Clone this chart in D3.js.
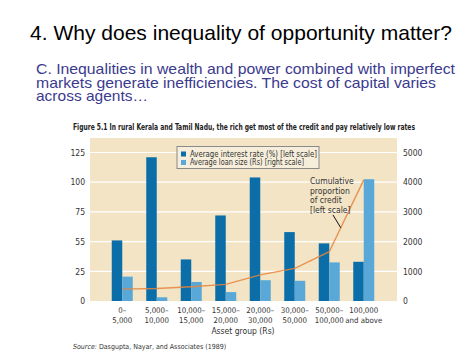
<!DOCTYPE html>
<html>
<head>
<meta charset="utf-8">
<script src="https://cdn.jsdelivr.net/npm/d3@7"></script>
<style>
  html, body { margin: 0; padding: 0; background: #fff; }
  svg { display: block; }
  .narrow { font-family: "Liberation Sans Narrow", "DejaVu Sans Condensed", "Liberation Sans", sans-serif; }
</style>
</head>
<body>
<div id="chart"></div>
<script>
// Asset groups (two label lines each)
const groups = ['g1', 'g2', 'g3', 'g4', 'g5', 'g6', 'g7', 'g8'];
const groupLabels = [
  ['0–', '5,000'], ['5,000–', '10,000'], ['10,000–', '15,000'], ['15,000–', '20,000'],
  ['20,000–', '30,000'], ['30,000–', '50,000'], ['50,000–', '100,000'], ['100,000', 'and above']
];
// Average interest rate (%), left scale
const interestRate = [51, 121, 35, 72, 104, 58, 48.5, 33];
// Average loan size (Rs), right scale
const loanSize = [820, 125, 640, 300, 700, 680, 1300, 4100];
// Cumulative proportion of credit, left scale
const cumulative = [10, 10.5, 12, 14, 22, 27.5, 41.5, 102];

const leftTicks = [0, 25, 50, 75, 100, 125];
const leftTickLabels = ['0', '25', '55', '75', '100', '125'];
const rightTicks = [0, 1000, 2000, 3000, 4000, 5000];

const W = 474, H = 355;
const COLORS = { dark: '#0b6ea8', light: '#5aa8d8', bg: '#f2e4c5', line: '#e8843c' };

const svg = d3.select('#chart').append('svg').attr('width', W).attr('height', H);

// Slide heading
svg.append('text')
  .attr('x', 30).attr('y', 40)
  .attr('font-family', 'Liberation Sans, Arial, sans-serif')
  .attr('font-size', 21).attr('fill', '#000')
  .attr('textLength', 422).attr('lengthAdjust', 'spacingAndGlyphs')
  .text('4. Why does inequality of opportunity matter?');

const sub = [
  'C. Inequalities in wealth and power combined with imperfect',
  'markets generate inefficiencies. The cost of capital varies',
  'across agents…'
];
const subLen = [419, 400, 112];
svg.append('g').selectAll('text').data(sub).join('text')
  .attr('x', 36).attr('y', (d, i) => 74 + i * 13.5)
  .attr('font-family', 'Liberation Sans, Arial, sans-serif')
  .attr('font-size', 15).attr('fill', '#3b3a8e')
  .attr('textLength', (d, i) => subLen[i]).attr('lengthAdjust', 'spacingAndGlyphs')
  .text(d => d);

// Figure title
svg.append('text').attr('class', 'narrow')
  .attr('x', 73).attr('y', 130)
  .attr('font-size', 9).attr('font-weight', 'bold').attr('fill', '#222')
  .attr('textLength', 342).attr('lengthAdjust', 'spacingAndGlyphs')
  .text('Figure 5.1 In rural Kerala and Tamil Nadu, the rich get most of the credit and pay relatively low rates');

// Plot area
const plot = { left: 90, right: 397, top: 138, bottom: 301 };

const x = d3.scaleBand().domain(groups).range([105, 381]).paddingInner(0).paddingOuter(0);
const yL = d3.scaleLinear().domain([0, 125]).range([plot.bottom, 152.5]);
const yR = d3.scaleLinear().domain([0, 5000]).range([plot.bottom, 152.5]);
const barW = 10.5;

svg.append('rect')
  .attr('x', plot.left).attr('y', plot.top)
  .attr('width', plot.right - plot.left).attr('height', plot.bottom - plot.top)
  .attr('fill', COLORS.bg);

// Gridlines
svg.append('g').selectAll('line').data(leftTicks.slice(1)).join('line')
  .attr('x1', plot.left).attr('x2', plot.right)
  .attr('y1', d => yL(d)).attr('y2', d => yL(d))
  .attr('stroke', '#fff').attr('stroke-width', 1.2);

// Left axis labels
const leftAxis = d3.axisLeft(yL).tickValues(leftTicks)
  .tickFormat((d, i) => leftTickLabels[i]).tickSize(0).tickPadding(0);
svg.append('g').attr('class', 'narrow')
  .attr('transform', 'translate(85,0)')
  .call(leftAxis)
  .call(g => g.select('.domain').remove())
  .call(g => g.selectAll('text').attr('font-size', 8.5).attr('fill', '#333').attr('font-family', null));

// Right axis labels
const rightAxis = d3.axisRight(yR).tickValues(rightTicks)
  .tickFormat(d3.format('d')).tickSize(0).tickPadding(0);
svg.append('g').attr('class', 'narrow')
  .attr('transform', 'translate(403,0)')
  .call(rightAxis)
  .call(g => g.select('.domain').remove())
  .call(g => g.selectAll('text').attr('font-size', 8.5).attr('fill', '#333').attr('font-family', null));

const center = d => x(d) + x.bandwidth() / 2;

// Bars
svg.append('g').selectAll('rect').data(groups).join('rect')
  .attr('x', d => center(d) - barW)
  .attr('y', (d, i) => yL(interestRate[i]))
  .attr('width', barW)
  .attr('height', (d, i) => yL(0) - yL(interestRate[i]))
  .attr('fill', COLORS.dark);

svg.append('g').selectAll('rect').data(groups).join('rect')
  .attr('x', d => center(d))
  .attr('y', (d, i) => yR(loanSize[i]))
  .attr('width', barW)
  .attr('height', (d, i) => yR(0) - yR(loanSize[i]))
  .attr('fill', COLORS.light);

// Cumulative line
const line = d3.line().x((d, i) => center(groups[i])).y(d => yL(d));
svg.append('path').datum(cumulative)
  .attr('d', line)
  .attr('fill', 'none').attr('stroke', COLORS.line)
  .attr('stroke-width', 1.4).attr('stroke-opacity', 0.85);

// Annotation
const ann = ['Cumulative', 'proportion', 'of credit', '[left scale]'];
svg.append('g').attr('class', 'narrow').selectAll('text').data(ann).join('text')
  .attr('x', 310).attr('y', (d, i) => 184 + i * 9.7)
  .attr('font-size', 8.5).attr('fill', '#333')
  .text(d => d);
const annX = center(groups[6]) + 11.5;
const annY = yL(cumulative[6]) + (yL(cumulative[7]) - yL(cumulative[6])) * (11.5 / x.step());
svg.append('line')
  .attr('x1', 333).attr('y1', 215).attr('x2', annX).attr('y2', annY)
  .attr('stroke', '#111').attr('stroke-width', 1);

// Legend
const legend = svg.append('g').attr('class', 'narrow');
legend.append('rect')
  .attr('x', 177).attr('y', 146.5).attr('width', 142).attr('height', 22)
  .attr('fill', '#f6eedb').attr('stroke', '#8a8a8a').attr('stroke-width', 1);
const legendData = [
  { label: 'Average interest rate (%) [left scale]', color: COLORS.dark, len: 127 },
  { label: 'Average loan size (Rs) [right scale]', color: COLORS.light, len: 114 }
];
const li = legend.selectAll('.li').data(legendData).join('g')
  .attr('transform', (d, i) => 'translate(181,' + (151.5 + i * 8.5) + ')');
li.append('rect').attr('width', 5).attr('height', 5).attr('fill', d => d.color);
li.append('text').attr('x', 9).attr('y', 5.2)
  .attr('font-size', 8.5).attr('fill', '#333')
  .attr('textLength', d => d.len).attr('lengthAdjust', 'spacingAndGlyphs')
  .text(d => d.label);

// X labels
const xl = svg.append('g').attr('class', 'narrow');
groups.forEach((g, i) => {
  groupLabels[i].forEach((t, j) => {
    xl.append('text')
      .attr('x', center(g)).attr('y', 313 + j * 10)
      .attr('text-anchor', 'middle').attr('font-size', 7.8).attr('fill', '#333')
      .text(t);
  });
});
xl.append('text')
  .attr('x', 243).attr('y', 334).attr('text-anchor', 'middle')
  .attr('font-size', 8.5).attr('fill', '#333').text('Asset group (Rs)');

// Source
const src = svg.append('text').attr('class', 'narrow')
  .attr('x', 73).attr('y', 349).attr('font-size', 7).attr('fill', '#333');
src.append('tspan').attr('font-style', 'italic').text('Source: ');
src.append('tspan').text('Dasgupta, Nayar, and Associates (1989)');
</script>
</body>
</html>
